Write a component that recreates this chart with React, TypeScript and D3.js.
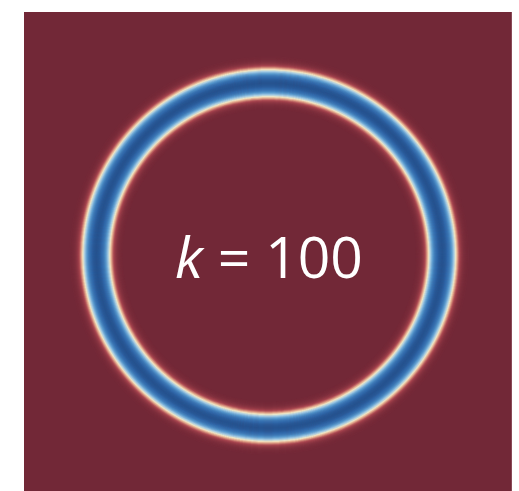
import React from "react";
import * as d3 from "d3";

// Interface position: radius of the blue core sampled at evenly spaced angles (clockwise from 12 o'clock)
const ringRadii = [172.5, 173, 174, 174.5, 173.5, 172.5, 173, 172, 171.5, 172.5, 172, 172.5];
const ringCenter = [268.3, 255.5];
const halfWidth = 13.5; // distance from core to the white isoline
const interfaceSoftness = 5;
const fieldStops = [-1, -0.93, -0.7, -0.35, 0, 0.3, 0.65, 1];
const fieldColors = ["#24508c", "#3068aa", "#5596cc", "#a6cee5", "#f2e8c6", "#e4a78a", "#a94650", "#722837"];
const labelVar = "k";
const labelRest = " = 100";

export default function App() {
  const W = 519;
  const H = 491;
  const panel = { x: 24, y: 12, w: 488, h: 488 };

  const color = d3
    .scaleLinear<string>()
    .domain(fieldStops)
    .range(fieldColors)
    .interpolate(d3.interpolateRgb)
    .clamp(true);

  // smooth periodic radius along the interface
  const radiusAt = d3.interpolateBasisClosed(ringRadii);
  const samples = d3.range(0, 360).map((i) => i / 360);

  const offsets = d3.range(-26, 26.01, 0.5);
  const bands = offsets.map((d) => {
    const line = d3
      .lineRadial<number>()
      .angle((t) => t * 2 * Math.PI)
      .radius((t) => radiusAt(t) + d)
      .curve(d3.curveLinearClosed);
    const v = Math.tanh((Math.abs(d) - halfWidth) / interfaceSoftness);
    return { d, path: line(samples) || "", stroke: color(v) };
  });

  return (
    <svg width={W} height={H} style={{ position: "absolute", left: 0, top: 0 }}>
      <defs>
        <clipPath id="panelClip">
          <rect x={panel.x} y={panel.y} width={panel.w} height={panel.h} />
        </clipPath>
      </defs>
      <rect x={0} y={0} width={W} height={H} fill="#ffffff" />
      <g clipPath="url(#panelClip)">
        <rect x={panel.x} y={panel.y} width={panel.w} height={panel.h} fill="#722837" />
        <g transform={`translate(${ringCenter[0]},${ringCenter[1]})`}>
          {bands.map((b, i) => (
            <path key={i} d={b.path} fill="none" stroke={b.stroke} strokeWidth={1.1} />
          ))}
        </g>
      </g>
      <line
        x1={panel.x + panel.w - 0.5}
        x2={panel.x + panel.w - 0.5}
        y1={panel.y}
        y2={H}
        stroke="#8a4a58"
        strokeWidth={1}
      />
      <text
        x={269}
        y={278}
        textAnchor="middle"
        fill="#ffffff"
        fontFamily="'Open Sans', 'Noto Sans', sans-serif"
        fontSize={57}
      >
        <tspan fontStyle="italic">{labelVar}</tspan>
        <tspan>{labelRest}</tspan>
      </text>
    </svg>
  );
}
